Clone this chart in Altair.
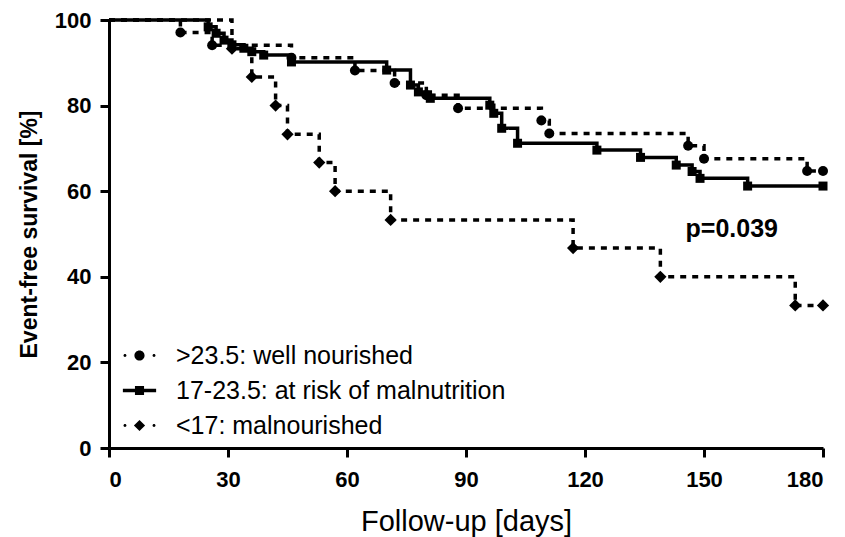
import altair as alt
import pandas as pd

# ---- data ----
groups = [">23.5: well nourished", "17-23.5: at risk of malnutrition", "<17: malnourished"]

well_days = [0, 18, 26, 46, 62, 72, 80, 88, 109, 111, 146, 150, 176, 180]
well_surv = [100, 97.1, 94.1, 91.2, 88.2, 85.3, 82.4, 79.4, 76.5, 73.5, 70.6, 67.6, 64.7, 64.7]

risk_days = [0, 25, 27, 29, 31, 34, 36, 39, 46, 70, 76, 78, 81, 96, 97, 99, 103, 123, 134, 143, 147, 149, 161, 180]
risk_surv = [100, 98.4, 96.9, 95.3, 94.2, 93.4, 92.6, 91.8, 90.2, 88.3, 84.8, 83.2, 81.7, 80.1, 78.2, 74.7, 71.2,
             69.6, 67.9, 66.1, 64.6, 63.0, 61.2, 61.2]

mal_days = [0, 31, 36, 42, 45, 53, 57, 71, 117, 139, 173, 180]
mal_surv = [100, 93.3, 86.7, 80.0, 73.3, 66.7, 60.0, 53.3, 46.7, 40.0, 33.3, 33.3]

x_ticks = [0, 30, 60, 90, 120, 150, 180]
y_ticks = [0, 20, 40, 60, 80, 100]

p_label = ["p=0.039"]
p_day = [157]
p_surv = [49.4]

marker_shapes = ["circle", "square", "diamond"]
marker_sizes = [100, 81, 150]

# ---- build table ----
rows = []
for g, ds, ss, ms in zip(groups, [well_days, risk_days, mal_days], [well_surv, risk_surv, mal_surv], marker_sizes):
    for d, s in zip(ds, ss):
        rows.append({"group": g, "day": d, "surv": s, "marker": d > 0, "msize": ms})
df = pd.DataFrame(rows)
ann = pd.DataFrame({"label": p_label, "day": p_day, "surv": p_surv})


def circ(cx, r):
    return f"M{cx - r},0A{r},{r} 0 1,0 {cx + r},0A{r},{r} 0 1,0 {cx - r},0Z"


dot = 0.085
leg_paths = [
    circ(-0.83, dot) + circ(0, 0.29) + circ(0.83, dot),
    "M-0.95,-0.1H0.95V0.1H-0.95Z M-0.26,-0.26H0.26V0.26H-0.26Z",
    circ(-0.83, dot) + "M-0.32,0L0,-0.32L0.32,0L0,0.32Z" + circ(0.83, dot),
]

FONT = "Liberation Sans"
x_enc = alt.X("day:Q", scale=alt.Scale(domain=[0, 180], nice=False),
              axis=alt.Axis(values=x_ticks, title="Follow-up [days]", titleFontWeight="normal",
                            titleFontSize=29, titlePadding=17, labelPadding=12))
y_enc = alt.Y("surv:Q", scale=alt.Scale(domain=[0, 100], nice=False),
              axis=alt.Axis(values=y_ticks, title="Event-free survival [%]", titleFontWeight="bold",
                            titleFontSize=23, titlePadding=13, labelPadding=9))

lines = alt.Chart(df).mark_line(interpolate="step-after", color="black", strokeWidth=3.5).encode(
    x=x_enc, y=y_enc,
    strokeDash=alt.StrokeDash("group:N", scale=alt.Scale(domain=groups, range=[[6, 6], [1, 0], [6, 6]]),
                              legend=None),
    detail="group:N",
)

points = alt.Chart(df).transform_filter("datum.marker").mark_point(filled=True, color="black", opacity=1).encode(
    x="day:Q", y="surv:Q",
    shape=alt.Shape("group:N", scale=alt.Scale(domain=groups, range=marker_shapes), legend=None),
    size=alt.Size("msize:Q", scale=None),
)

legend_layer = alt.Chart(df).transform_filter("datum.day < 0").mark_point(filled=True, color="black", opacity=1).encode(
    x="day:Q", y="surv:Q",
    shape=alt.Shape("group:N", scale=alt.Scale(domain=groups, range=leg_paths),
                    legend=alt.Legend(title=None, orient="none", legendX=13, legendY=318,
                                      symbolSize=1225, symbolFillColor="black", symbolStrokeWidth=0,
                                      symbolOpacity=1, labelFont=FONT, labelFontSize=25,
                                      labelColor="black", labelOffset=19, rowPadding=4, padding=0,
                                      labelLimit=500)),
)

ptext = alt.Chart(ann).mark_text(font=FONT, fontSize=25, fontWeight="bold", color="black",
                                 align="center", baseline="alphabetic").encode(
    x="day:Q", y="surv:Q", text="label:N")

chart = alt.layer(lines, points, legend_layer, ptext).resolve_scale(shape="independent").properties(
    width=714, height=428,
    autosize=alt.AutoSizeParams(type="none"),
    padding={"left": 101, "top": 12, "right": 14, "bottom": 89},
).configure_view(stroke=None).configure_axis(
    grid=False, domainColor="black", domainWidth=3, tickColor="black", tickWidth=3, tickSize=9,
    labelFont=FONT, labelFontSize=22, labelFontWeight="bold", labelColor="black",
    titleFont=FONT, titleColor="black",
)

chart.save("out.html", embed_options={"renderer": "svg", "actions": False})
